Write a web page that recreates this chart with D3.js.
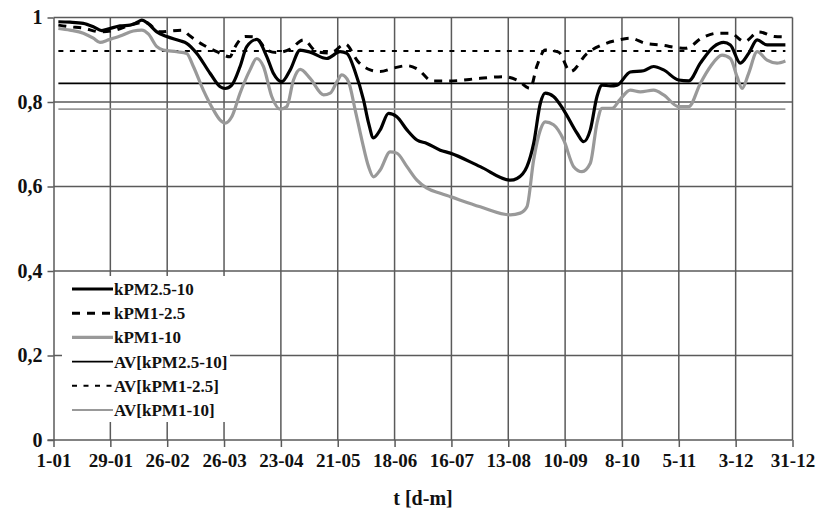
<!DOCTYPE html>
<html>
<head>
<meta charset="utf-8">
<script src="https://cdn.jsdelivr.net/npm/d3@7"></script>
</head>
<body style="margin:0">
<svg id="chart" width="818" height="515"></svg>
<script>
// Day-of-year tick positions (every 28 days) and their labels
const tickDays = [0, 28, 56, 84, 112, 140, 168, 196, 224, 252, 280, 308, 336, 364];
const tickLabels = ["1-01", "29-01", "26-02", "26-03", "23-04", "21-05", "18-06", "16-07",
                    "13-08", "10-09", "8-10", "5-11", "3-12", "31-12"];
const yTicks = [0, 0.2, 0.4, 0.6, 0.8, 1];
const yTickLabels = ["0", "0,2", "0,4", "0,6", "0,8", "1"];

// kPM2.5-10 (day of year, ratio)
const pm25_10Days = [2.4, 8.1, 14.7, 19.6, 23.8, 27.8, 32.8, 37.7, 41.0, 43.5, 46.7, 50.9, 55.8, 62.3, 65.6,
  70.6, 77.1, 82.1, 84.5, 87.8, 91.9, 95.2, 100.1, 105.1, 108.3, 112.5, 116.6, 121.5, 126.4, 134.6, 141.2,
  144.5, 148.6, 152.7, 155.2, 157.6, 160.9, 165.0, 169.1, 174.1, 179.0, 183.9, 190.5, 195.4, 210.2, 225.0,
  228.3, 233.2, 236.5, 239.8, 242.2, 246.3, 251.3, 257.9, 261.1, 264.4, 267.7, 270.2, 274.3, 277.6, 284.1,
  290.7, 295.6, 300.5, 307.9, 312.9, 318.6, 325.2, 330.1, 333.4, 338.3, 342.4, 346.6, 351.5, 360.5];
const pm25_10Vals = [0.990, 0.989, 0.986, 0.978, 0.969, 0.974, 0.980, 0.982, 0.988, 0.994, 0.985, 0.966, 0.955, 0.945, 0.939,
  0.915, 0.868, 0.836, 0.832, 0.840, 0.884, 0.931, 0.948, 0.907, 0.868, 0.848, 0.876, 0.923, 0.918, 0.903, 0.919,
  0.915, 0.871, 0.805, 0.750, 0.715, 0.734, 0.773, 0.765, 0.734, 0.710, 0.702, 0.686, 0.679, 0.647, 0.615,
  0.619, 0.647, 0.702, 0.797, 0.821, 0.813, 0.781, 0.726, 0.706, 0.734, 0.813, 0.840, 0.838, 0.840, 0.871,
  0.874, 0.884, 0.876, 0.852, 0.850, 0.892, 0.931, 0.941, 0.935, 0.892, 0.915, 0.947, 0.935, 0.935];

// kPM1-2.5
const pm1_25Days = [2.4, 8.1, 14.5, 22.9, 30.3, 37.7, 45.1, 52.5, 63.2, 67.3, 73.8, 80.4, 87.0, 88.6, 94.4,
  99.3, 105.1, 110.0, 116.6, 123.1, 129.7, 136.3, 143.7, 150.1, 156.0, 160.9, 167.3, 174.1, 179.6, 186.4,
  195.4, 210.2, 221.7, 228.3, 234.8, 238.1, 242.2, 248.8, 254.6, 262.8, 270.2, 277.6, 284.1, 291.5, 298.9,
  311.2, 319.9, 327.3, 333.4, 340.3, 347.4, 355.1, 360.5];
const pm1_25Vals = [0.982, 0.978, 0.975, 0.966, 0.970, 0.982, 0.989, 0.966, 0.970, 0.956, 0.935, 0.919, 0.907, 0.923, 0.955,
  0.954, 0.923, 0.917, 0.925, 0.947, 0.919, 0.916, 0.937, 0.895, 0.876, 0.872, 0.880, 0.886, 0.877, 0.850,
  0.850, 0.856, 0.860, 0.852, 0.832, 0.885, 0.923, 0.918, 0.872, 0.915, 0.935, 0.946, 0.951, 0.939, 0.935,
  0.927, 0.953, 0.963, 0.963, 0.943, 0.966, 0.955, 0.954];

// kPM1-10
const pm1_10Days = [2.4, 8.1, 14.7, 19.6, 22.9, 27.0, 32.8, 39.3, 43.5, 46.7, 50.9, 54.1, 60.7, 65.6, 68.9,
  73.8, 78.8, 82.1, 84.5, 87.8, 91.9, 96.8, 100.1, 103.4, 107.5, 111.6, 114.9, 118.2, 121.5, 126.4, 133.0,
  136.3, 139.6, 142.0, 145.3, 148.6, 151.9, 155.2, 157.6, 160.9, 165.8, 169.1, 174.1, 179.0, 183.9, 190.5,
  195.4, 210.2, 225.0, 229.9, 233.2, 236.5, 239.8, 242.2, 246.3, 251.3, 256.2, 260.3, 264.4, 267.7, 270.2,
  275.1, 279.2, 284.1, 289.0, 295.6, 300.5, 307.9, 312.9, 318.6, 323.6, 329.3, 333.4, 336.7, 339.2, 342.4,
  346.6, 351.5, 356.4, 360.5];
const pm1_10Vals = [0.974, 0.970, 0.963, 0.951, 0.941, 0.947, 0.956, 0.968, 0.970, 0.961, 0.931, 0.923, 0.919, 0.915, 0.884,
  0.828, 0.781, 0.757, 0.750, 0.765, 0.821, 0.876, 0.903, 0.884, 0.813, 0.783, 0.789, 0.852, 0.877, 0.856, 0.817,
  0.821, 0.848, 0.864, 0.848, 0.781, 0.710, 0.647, 0.623, 0.639, 0.682, 0.679, 0.647, 0.615, 0.596, 0.584,
  0.576, 0.552, 0.533, 0.537, 0.552, 0.663, 0.734, 0.753, 0.746, 0.710, 0.647, 0.635, 0.655, 0.750, 0.785,
  0.785, 0.807, 0.828, 0.824, 0.828, 0.817, 0.789, 0.789, 0.844, 0.884, 0.911, 0.903, 0.860, 0.832, 0.868,
  0.919, 0.899, 0.892, 0.897];

// Annual averages
const avgNames = ["AV[kPM2.5-10]", "AV[kPM1-2.5]", "AV[kPM1-10]"];
const avgVals = [0.844, 0.921, 0.783];

const seriesNames = ["kPM2.5-10", "kPM1-2.5", "kPM1-10"];

const svg = d3.select("#chart");
const margin = { left: 53.5, right: 25.5, top: 17.5, bottom: 75 };
const W = 818, H = 515;

const x = d3.scaleLinear().domain([0, 364]).range([margin.left, W - margin.right]);
const y = d3.scaleLinear().domain([0, 1]).range([H - margin.bottom, margin.top]);

const gridColor = "#5a5a5a";

// Bold serif text, applied as both attribute and inline style
function serif(sel, size) {
  return sel.attr("font-family", "Liberation Serif").attr("font-weight", "bold")
    .attr("font-size", size).attr("fill", "#111")
    .style("font-family", "'Liberation Serif', 'Times New Roman', serif")
    .style("font-weight", "bold").style("font-size", size + "px");
}

// Vertical grid with tick marks below the axis
const xAxis = d3.axisBottom(x).tickValues(tickDays)
  .tickFormat((d, i) => tickLabels[i]).tickSize(7).tickSizeOuter(0);
const gx = svg.append("g").attr("transform", `translate(0,${y(0)})`).call(xAxis)
  .attr("font-family", null).attr("font-size", null);
gx.select(".domain").attr("stroke", gridColor).attr("stroke-width", 1.5).attr("d", `M${x(0) - 6},0H${x(364)}`);
gx.selectAll(".tick line").attr("stroke", gridColor).attr("stroke-width", 1.5);
serif(gx.selectAll(".tick text").attr("y", 21).attr("dy", "0.32em"), 19);

svg.append("g").selectAll("line").data(tickDays.slice(1)).join("line")
  .attr("x1", d => x(d)).attr("x2", d => x(d))
  .attr("y1", y(0)).attr("y2", y(1))
  .attr("stroke", gridColor).attr("stroke-width", 1.5);

// Horizontal grid and y axis
const yAxis = d3.axisLeft(y).tickValues(yTicks)
  .tickFormat((d, i) => yTickLabels[i]).tickSize(6).tickSizeOuter(0);
const gy = svg.append("g").attr("transform", `translate(${x(0)},0)`).call(yAxis)
  .attr("font-family", null).attr("font-size", null);
gy.select(".domain").attr("stroke", gridColor).attr("stroke-width", 1.5);
gy.selectAll(".tick line").attr("stroke", gridColor).attr("stroke-width", 1.5);
serif(gy.selectAll(".tick text").attr("x", -11), 20);

svg.append("g").selectAll("line").data(yTicks.slice(1)).join("line")
  .attr("x1", x(0)).attr("x2", x(364))
  .attr("y1", d => y(d)).attr("y2", d => y(d))
  .attr("stroke", gridColor).attr("stroke-width", 1.5);

// Axis title
serif(svg.append("text").attr("x", (x(0) + x(364)) / 2).attr("y", 505)
  .attr("text-anchor", "middle"), 20).text("t [d-m]");

// Styles for each drawn line
const styles = {
  "kPM2.5-10": { color: "#000", width: 3.2, dash: null },
  "kPM1-2.5": { color: "#000", width: 3, dash: "8,7" },
  "kPM1-10": { color: "#999", width: 3.2, dash: null },
  "AV[kPM2.5-10]": { color: "#000", width: 1.6, dash: null },
  "AV[kPM1-2.5]": { color: "#000", width: 2, dash: "5,6.5" },
  "AV[kPM1-10]": { color: "#999", width: 1.8, dash: null }
};

// Average lines span the same days as the series
const firstDay = pm25_10Days[0], lastDay = pm25_10Days[pm25_10Days.length - 1];
avgNames.forEach((name, i) => {
  const s = styles[name];
  svg.append("line")
    .attr("x1", x(firstDay)).attr("x2", x(lastDay))
    .attr("y1", y(avgVals[i])).attr("y2", y(avgVals[i]))
    .attr("stroke", s.color).attr("stroke-width", s.width)
    .attr("stroke-dasharray", s.dash);
});

const line = d3.line().x(d => x(d[0])).y(d => y(d[1])).curve(d3.curveMonotoneX);
const series = [
  [seriesNames[2], d3.zip(pm1_10Days, pm1_10Vals)],
  [seriesNames[1], d3.zip(pm1_25Days, pm1_25Vals)],
  [seriesNames[0], d3.zip(pm25_10Days, pm25_10Vals)]
];
series.forEach(([name, pts]) => {
  const s = styles[name];
  svg.append("path").datum(pts).attr("d", line)
    .attr("fill", "none").attr("stroke", s.color).attr("stroke-width", s.width)
    .attr("stroke-linejoin", "round")
    .attr("stroke-dasharray", s.dash);
});

// Legend
const legendNames = seriesNames.concat(avgNames);
const lg = svg.append("g");
lg.append("rect").attr("x", 62).attr("y", 276).attr("width", 168).attr("height", 146).attr("fill", "#fff");
legendNames.forEach((name, i) => {
  const s = styles[name];
  const cy = 289 + i * 24.2;
  lg.append("line").attr("x1", 72).attr("x2", 113).attr("y1", cy).attr("y2", cy)
    .attr("stroke", s.color).attr("stroke-width", s.width).attr("stroke-dasharray", s.dash);
  serif(lg.append("text").attr("x", 114).attr("y", cy).attr("dy", "0.35em"), 17).text(name);
});
</script>
</body>
</html>
